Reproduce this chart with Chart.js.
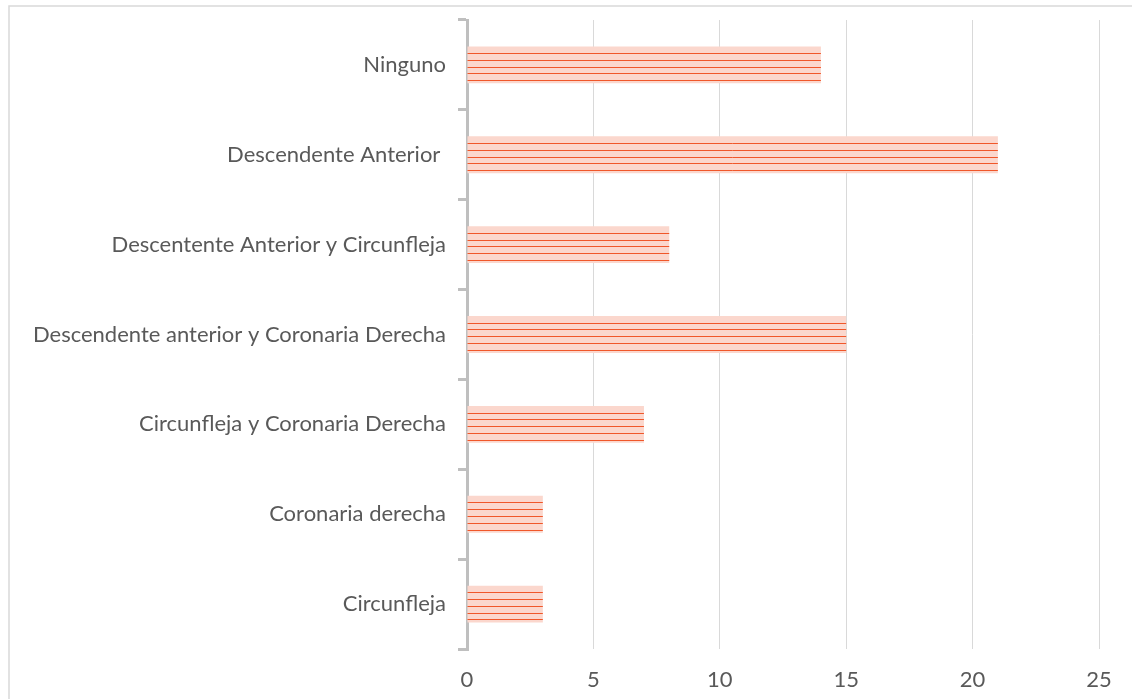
<!DOCTYPE html>
<html>
<head>
<meta charset="utf-8">
<script src="https://cdn.jsdelivr.net/npm/chart.js@4.4.1/dist/chart.umd.min.js"></script>
<style>
  html, body { margin: 0; padding: 0; background: #ffffff; }
  #wrap { position: relative; width: 1132px; height: 699px; }
</style>
</head>
<body>
<div id="wrap"><canvas id="chart" width="1132" height="699"></canvas></div>
<script>
// Arterias afectadas (número de pacientes)
const categories = [
  'Ninguno',
  'Descendente Anterior ',
  'Descentente Anterior y Circunfleja',
  'Descendente anterior y Coronaria Derecha',
  'Circunfleja y Coronaria Derecha',
  'Coronaria derecha',
  'Circunfleja'
];
const values = [14, 21, 8, 15, 7, 3, 3];
const xTicks = [0, 5, 10, 15, 20, 25];

const TEXT = '#595959';
const FONT = 'Lato';

// Frame lines and white background
const framePlugin = {
  id: 'frame',
  beforeDraw(chart) {
    const ctx = chart.ctx;
    ctx.save();
    ctx.fillStyle = '#ffffff';
    ctx.fillRect(0, 0, chart.width, chart.height);
    ctx.strokeStyle = '#d9d9d9';
    ctx.lineWidth = 1.5;
    ctx.beginPath();
    ctx.moveTo(9, chart.height);
    ctx.lineTo(9, 6);
    ctx.lineTo(chart.width, 6);
    ctx.stroke();
    ctx.restore();
  }
};

// Horizontal hatch lines inside each bar
const hatchPlugin = {
  id: 'hatch',
  afterDatasetsDraw(chart) {
    const ctx = chart.ctx;
    const meta = chart.getDatasetMeta(0);
    ctx.save();
    ctx.strokeStyle = '#f0572a';
    ctx.lineWidth = 1;
    meta.data.forEach(bar => {
      const p = bar.getProps(['x', 'y', 'base', 'height'], true);
      const top = p.y - p.height / 2;
      const left = Math.min(p.base, p.x);
      const right = Math.max(p.base, p.x);
      for (let k = 0; k < 5; k++) {
        const yy = Math.round(top + p.height * (0.18 + 0.184 * k)) + 0.5;
        ctx.beginPath();
        ctx.moveTo(left, yy);
        ctx.lineTo(right, yy);
        ctx.stroke();
      }
    });
    ctx.restore();
  }
};

new Chart(document.getElementById('chart'), {
  type: 'bar',
  data: {
    labels: categories,
    datasets: [{
      data: values,
      backgroundColor: '#fbd7cd',
      borderWidth: 0,
      categoryPercentage: 1,
      barPercentage: 0.41
    }]
  },
  options: {
    indexAxis: 'y',
    responsive: false,
    animation: false,
    devicePixelRatio: 1,
    layout: { padding: { top: 20, right: 33, left: 0, bottom: 0 } },
    plugins: {
      legend: { display: false },
      tooltip: { enabled: false }
    },
    scales: {
      x: {
        min: 0,
        max: 25,
        afterBuildTicks(scale) {
          scale.ticks = xTicks.map(v => ({ value: v }));
        },
        afterFit(scale) {
          scale.height = 50;
          scale.paddingLeft = 0;
          scale.paddingRight = 0;
        },
        grid: {
          color: '#d9d9d9',
          lineWidth: 1,
          drawTicks: false
        },
        border: { display: false },
        ticks: {
          color: TEXT,
          padding: 18,
          font: { family: FONT, size: 22 }
        }
      },
      y: {
        afterFit(scale) {
          scale.width = 467;
          scale.paddingTop = 0;
          scale.paddingBottom = 0;
        },
        grid: {
          offset: true,
          drawOnChartArea: false,
          drawTicks: true,
          tickLength: 9,
          color: '#bfbfbf',
          lineWidth: 3
        },
        border: { display: true, color: '#bfbfbf', width: 3 },
        ticks: {
          color: TEXT,
          padding: 12,
          font: { family: FONT, size: 22 }
        }
      }
    }
  },
  plugins: [framePlugin, hatchPlugin]
});
</script>
</body>
</html>
